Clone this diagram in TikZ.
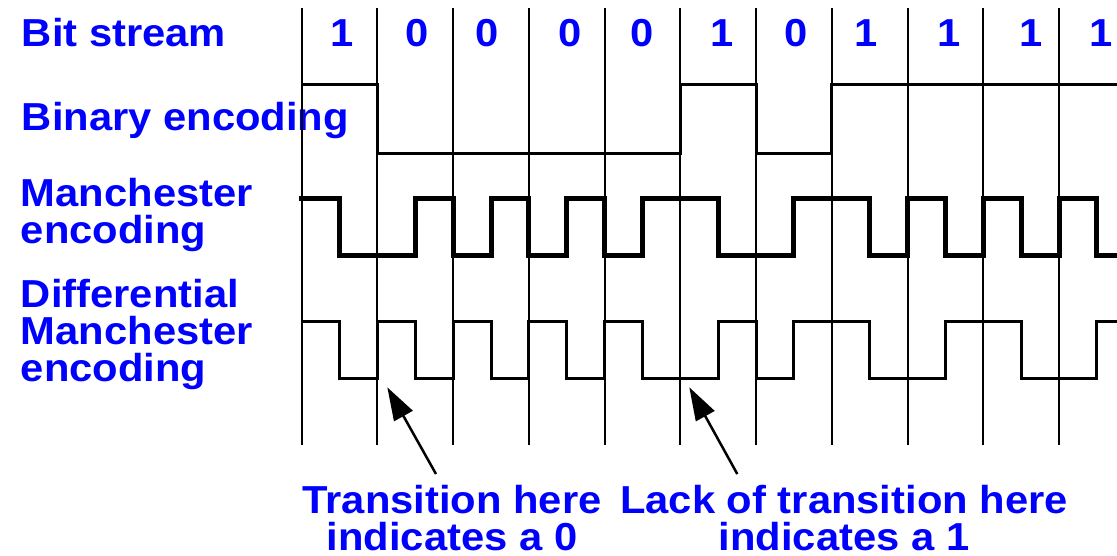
\documentclass[tikz,border=0pt]{standalone}
\usepackage{fontspec}
\setmainfont{Liberation Sans}[FakeStretch=1.07]
\usetikzlibrary{arrows.meta}
\begin{document}
\begin{tikzpicture}[x=1pt,y=-1pt,
  lab/.style={text=blue,font={\fontsize{39}{37}\selectfont\bfseries},inner sep=0pt,align=left,anchor=base west},
  bitlab/.style={text=blue,font={\fontsize{39}{37}\selectfont\bfseries},inner sep=0pt,anchor=base},
  note/.style={text=blue,font={\fontsize{39}{37}\selectfont\bfseries},inner sep=0pt,align=center,anchor=base},
  grid/.style={line width=2pt,black},
  binsig/.style={line width=3pt,black},
  mansig/.style={line width=5pt,black},
  difsig/.style={line width=3pt,black},
  pointer/.style={line width=2.5pt,black,-{Triangle[length=33pt,width=21pt]}}]
\useasboundingbox (0,0) rectangle (1117,555);
\clip (0,0) rectangle (1117,555);
% row labels (base anchor = baseline of the last line)
\node[lab] (bs) at (21.7,46) {Bit stream};
\node[lab] (be) at (21.7,130.7) {Binary encoding};
\node[lab] (me) at (20.7,243.3) {Manchester\\encoding};
\node[lab] (dme) at (20.7,381.7) {Differential\\Manchester\\encoding};
% bit values
\node[bitlab] (b0) at (342,46) {1};
\node[bitlab] (b1) at (416.7,46) {0};
\node[bitlab] (b2) at (487,46) {0};
\node[bitlab] (b3) at (570,46) {0};
\node[bitlab] (b4) at (642,46) {0};
\node[bitlab] (b5) at (722,46) {1};
\node[bitlab] (b6) at (796,46) {0};
\node[bitlab] (b7) at (866,46) {1};
\node[bitlab] (b8) at (949,46) {1};
\node[bitlab] (b9) at (1031,46) {1};
\node[bitlab] (b10) at (1101,46) {1};
\begin{scope}[shift={(301.7,0)},x=75.73pt,y=-1pt]
  % bit boundaries
  \foreach \k in {0,...,10} \draw[grid] (\k,8) -- (\k,445);
  % binary
  \draw[binsig] (0,84) -- (1,84) -- (1,153) -- (5,153) -- (5,84) -- (6,84) -- (6,153) -- (7,153) -- (7,84) -- (10.8,84);
  % Manchester
  \draw[mansig] (-0.03,198) -- (0.5,198) -- (0.5,255) -- (1.5,255) -- (1.5,198) -- (2,198) -- (2,255) -- (2.5,255) -- (2.5,198) -- (3,198) -- (3,255) -- (3.5,255) -- (3.5,198) -- (4,198) -- (4,255) -- (4.5,255) -- (4.5,198) -- (5.5,198) -- (5.5,255) -- (6.5,255) -- (6.5,198) -- (7.5,198) -- (7.5,255) -- (8,255) -- (8,198) -- (8.5,198) -- (8.5,255) -- (9,255) -- (9,198) -- (9.5,198) -- (9.5,255) -- (10,255) -- (10,198) -- (10.5,198) -- (10.5,255) -- (10.8,255);
  % Differential Manchester
  \draw[difsig] (0,321) -- (0.5,321) -- (0.5,378) -- (1,378) -- (1,321) -- (1.5,321) -- (1.5,378) -- (2,378) -- (2,321) -- (2.5,321) -- (2.5,378) -- (3,378) -- (3,321) -- (3.5,321) -- (3.5,378) -- (4,378) -- (4,321) -- (4.5,321) -- (4.5,378) -- (5.5,378) -- (5.5,321) -- (6,321) -- (6,378) -- (6.5,378) -- (6.5,321) -- (7.5,321) -- (7.5,378) -- (8.5,378) -- (8.5,321) -- (9.5,321) -- (9.5,378) -- (10.5,378) -- (10.5,321) -- (10.8,321);
\end{scope}
% annotations
\coordinate (t0) at (436,474);
\coordinate (h0) at (387.3,387.3);
\coordinate (t1) at (737.3,474);
\coordinate (h1) at (689.3,387.3);
\draw[pointer] (t0) -- (h0);
\draw[pointer] (t1) -- (h1);
\node[note] (n0) at (452,550) {Transition here\\indicates a 0};
\node[note] (n1) at (844,550) {Lack of transition here\\indicates a 1};
\end{tikzpicture}
\end{document}
